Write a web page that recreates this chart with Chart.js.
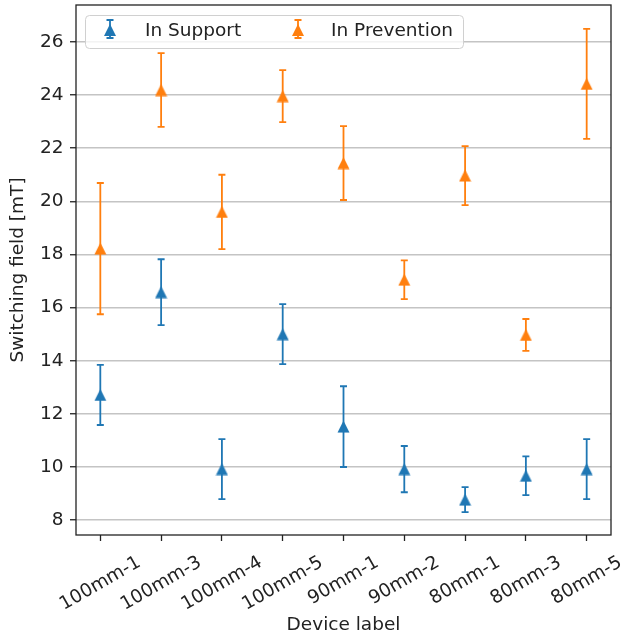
<!DOCTYPE html>
<html>
<head>
<meta charset="utf-8">
<script src="https://cdn.jsdelivr.net/npm/chart.js@4/dist/chart.umd.min.js"></script>
<style>
  body { margin: 0; background: #fff; }
  #wrap { width: 621px; height: 644px; }
</style>
</head>
<body>
<div id="wrap"><canvas id="chart" width="621" height="644"></canvas></div>
<script>
const deviceLabels = ["100mm-1", "100mm-3", "100mm-4", "100mm-5", "90mm-1", "90mm-2", "80mm-1", "80mm-3", "80mm-5"];
const supportMean = [12.71, 16.58, 9.92, 15.0, 11.52, 9.92, 8.77, 9.67, 9.92];
const supportErr = [1.13, 1.24, 1.13, 1.13, 1.52, 0.87, 0.47, 0.73, 1.13];
const preventionMean = [18.22, 24.19, 19.6, 23.96, 21.44, 17.05, 20.97, 14.97, 24.42];
const preventionErr = [2.47, 1.39, 1.4, 0.98, 1.39, 0.73, 1.11, 0.6, 2.07];
const yTicks = [8, 10, 12, 14, 16, 18, 20, 22, 24, 26];

const BLUE = "#1f77b4";
const ORANGE = "#ff7f0e";
const FONT = "DejaVu Sans";
const FSIZE = 18.5;

function triangle(color) {
  const c = document.createElement("canvas");
  c.width = 13;
  c.height = 13;
  const g = c.getContext("2d");
  g.fillStyle = color;
  g.beginPath();
  g.moveTo(6.5, 0.5);
  g.lineTo(12.5, 12.5);
  g.lineTo(0.5, 12.5);
  g.closePath();
  g.fill();
  return c;
}

function toPoints(vals) {
  return vals.map((v, i) => ({ x: i, y: v }));
}

const errors = [supportErr, preventionErr];

const errorBars = {
  id: "errorBars",
  beforeDatasetsDraw(chart) {
    const ctx = chart.ctx;
    const y = chart.scales.y;
    chart.data.datasets.forEach((ds, d) => {
      const meta = chart.getDatasetMeta(d);
      ctx.save();
      ctx.strokeStyle = ds.backgroundColor;
      ctx.lineWidth = 1.8;
      meta.data.forEach((pt, i) => {
        const v = ds.data[i].y;
        const e = errors[d][i];
        const top = y.getPixelForValue(v + e);
        const bot = y.getPixelForValue(v - e);
        ctx.beginPath();
        ctx.moveTo(pt.x, top);
        ctx.lineTo(pt.x, bot);
        ctx.moveTo(pt.x - 3.5, top);
        ctx.lineTo(pt.x + 3.5, top);
        ctx.moveTo(pt.x - 3.5, bot);
        ctx.lineTo(pt.x + 3.5, bot);
        ctx.stroke();
      });
      ctx.restore();
    });
  },
};

function legendGlyph(ctx, x, y, color) {
  ctx.strokeStyle = color;
  ctx.fillStyle = color;
  ctx.lineWidth = 1.8;
  ctx.beginPath();
  ctx.moveTo(x, y - 10);
  ctx.lineTo(x, y + 8);
  ctx.moveTo(x - 3.5, y - 10);
  ctx.lineTo(x + 3.5, y - 10);
  ctx.moveTo(x - 3.5, y + 8);
  ctx.lineTo(x + 3.5, y + 8);
  ctx.stroke();
  ctx.beginPath();
  ctx.moveTo(x, y - 6);
  ctx.lineTo(x + 6, y + 6);
  ctx.lineTo(x - 6, y + 6);
  ctx.closePath();
  ctx.fill();
}

const decorations = {
  id: "decorations",
  afterDraw(chart) {
    const ctx = chart.ctx;
    const a = chart.chartArea;
    const xs = chart.scales.x;
    ctx.save();

    // frame
    ctx.strokeStyle = "#222";
    ctx.lineWidth = 1.3;
    ctx.strokeRect(a.left, a.top, a.right - a.left, a.bottom - a.top);

    // x tick labels, rotated 30deg, centred on tick
    ctx.font = FSIZE + "px '" + FONT + "'";
    ctx.fillStyle = "#222";
    ctx.textAlign = "center";
    ctx.textBaseline = "middle";
    const h = FSIZE * 1.16;
    deviceLabels.forEach((lab, i) => {
      const w = ctx.measureText(lab).width;
      const boxH = w * 0.5 + h * Math.cos(Math.PI / 6);
      const cx = xs.getPixelForValue(i);
      const cy = a.bottom + 17 + boxH / 2;
      ctx.save();
      ctx.translate(cx, cy);
      ctx.rotate(-Math.PI / 6);
      ctx.fillText(lab, 0, 0);
      ctx.restore();
    });

    // legend
    const lx = 85.5, ly = 15.5, lw = 378, lh = 33;
    ctx.beginPath();
    ctx.roundRect(lx, ly, lw, lh, 4);
    ctx.fillStyle = "rgba(255,255,255,0.8)";
    ctx.fill();
    ctx.strokeStyle = "#d0d0d0";
    ctx.lineWidth = 1;
    ctx.stroke();
    legendGlyph(ctx, 110, 30, BLUE);
    legendGlyph(ctx, 298, 30, ORANGE);
    ctx.fillStyle = "#222";
    ctx.textAlign = "left";
    ctx.textBaseline = "middle";
    ctx.fillText("In Support", 145, 31);
    ctx.fillText("In Prevention", 331, 31);
    ctx.restore();
  },
};

Chart.defaults.font.family = FONT;
Chart.defaults.font.size = FSIZE;
Chart.defaults.color = "#222";

new Chart(document.getElementById("chart"), {
  type: "scatter",
  data: {
    datasets: [
      {
        label: "In Support",
        data: toPoints(supportMean),
        backgroundColor: BLUE,
        borderColor: BLUE,
        pointStyle: triangle(BLUE),
      },
      {
        label: "In Prevention",
        data: toPoints(preventionMean),
        backgroundColor: ORANGE,
        borderColor: ORANGE,
        pointStyle: triangle(ORANGE),
      },
    ],
  },
  options: {
    responsive: false,
    animation: false,
    layout: { padding: { top: 5, right: 10, left: 0, bottom: 0 } },
    plugins: {
      legend: { display: false },
      tooltip: { enabled: false },
    },
    scales: {
      x: {
        type: "linear",
        min: -0.4,
        max: 8.4,
        afterBuildTicks(scale) {
          scale.ticks = deviceLabels.map((_, i) => ({ value: i }));
        },
        afterFit(scale) {
          scale.height = 109;
          scale.paddingLeft = 0;
          scale.paddingRight = 0;
        },
        ticks: { display: false },
        grid: {
          drawOnChartArea: false,
          tickColor: "#222",
          tickLength: 6,
          tickWidth: 1.3,
        },
        border: { display: false },
        title: {
          display: true,
          text: "Device label",
          color: "#222",
          font: { size: FSIZE },
          padding: { top: 0, bottom: 8 },
        },
      },
      y: {
        min: 7.44,
        max: 27.39,
        afterBuildTicks(scale) {
          scale.ticks = yTicks.map((v) => ({ value: v }));
        },
        afterFit(scale) {
          scale.width = 76;
          scale.paddingTop = 0;
          scale.paddingBottom = 0;
        },
        ticks: { padding: 6.5, color: "#222", font: { size: FSIZE } },
        grid: {
          color: "#c4c4c4",
          lineWidth: 1.5,
          tickColor: "#222",
          tickLength: 6,
          tickWidth: 1.3,
        },
        border: { display: false },
        title: {
          display: true,
          text: "Switching field [mT]",
          color: "#222",
          font: { size: FSIZE },
          padding: { top: 7, bottom: 0 },
        },
      },
    },
  },
  plugins: [errorBars, decorations],
});
</script>
</body>
</html>
